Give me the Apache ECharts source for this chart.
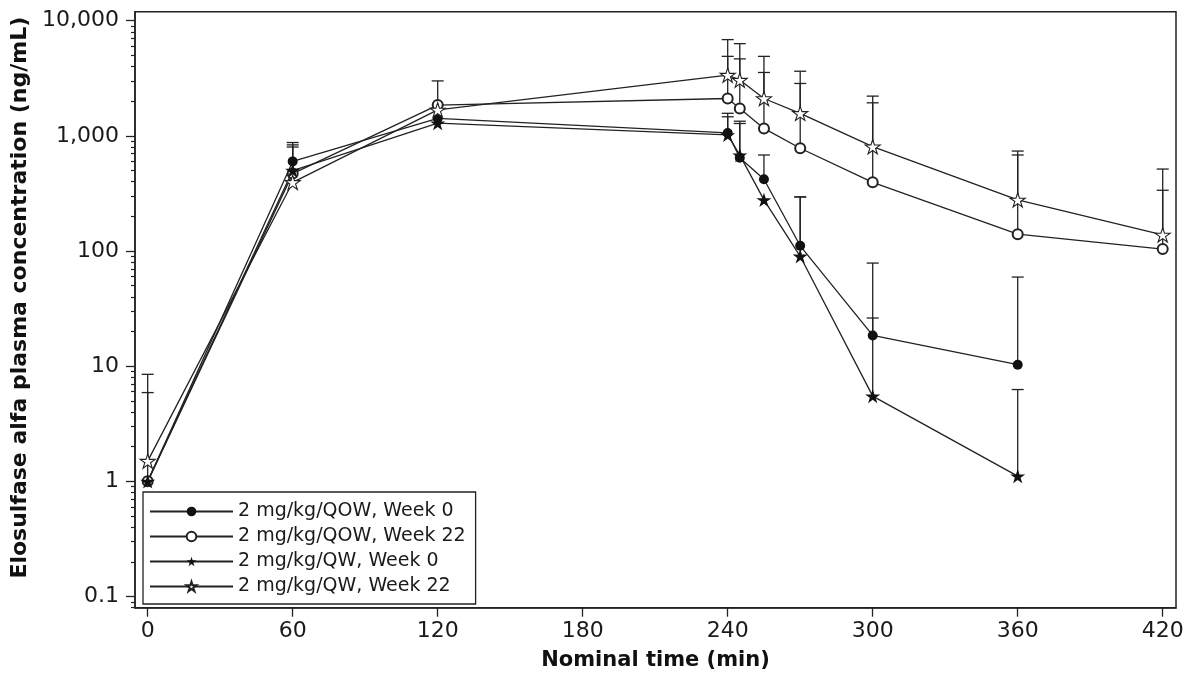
<!DOCTYPE html>
<html>
<head>
<meta charset="utf-8">
<script src="https://cdn.jsdelivr.net/npm/echarts@6/dist/echarts.min.js"></script>
<style>
html,body{margin:0;padding:0;background:#fff;}
#chart{width:1195px;height:684px;}
</style>
</head>
<body>
<div id="chart"></div>
<script>
// Nominal time (min)
const times = [0, 60, 120, 240, 245, 255, 270, 300, 360, 420];
// Mean concentrations (ng/mL)
const qowWk0  = [1.0, 600, 1420, 1060, 645, 420, 111, 18.5, 10.3, null];
const qowWk22 = [1.0, 470, 1850, 2110, 1730, 1160, 780, 395, 140, 104];
const qwWk0   = [1.0, 500, 1290, 1020, 680, 278, 90, 5.5, 1.11, null];
const qwWk22  = [1.5, 395, 1680, 3370, 3050, 2110, 1570, 805, 278, 138];
// Upper error bar ends (mean + SD)
const qowWk0Upper  = [5.9, 875, null, 1570, 1280, 682, 295, 78.6, 59.4, null];
const qowWk22Upper = [null, 835, 3000, 4900, 4660, 3550, 2850, 1936, 682, 337];
const qwWk0Upper   = [null, 800, null, 1465, 1340, null, 295, 26.2, 6.27, null];
const qwWk22Upper  = [8.5, null, null, 6850, 6320, 4900, 3640, 2213, 738, 515];
// Axis ticks
const xTicks = [0, 60, 120, 180, 240, 300, 360, 420];
const yTicks = [0.1, 1, 10, 100, 1000, 10000];
const seriesNames = ['2 mg/kg/QOW, Week 0', '2 mg/kg/QOW, Week 22', '2 mg/kg/QW, Week 0', '2 mg/kg/QW, Week 22'];

const lg = v => Math.log10(v);
const yMajor = yTicks.map(lg);
const yMinor = [];
[0.01, 0.1, 1, 10, 100, 1000].forEach(d => { for (let k = 2; k <= 9; k++) yMinor.push(lg(k * d)); });
const yMin = -1.097, yMax = 4.078;
const yMinorIn = yMinor.filter(v => v > yMin && v < yMax);

const STAR = 'path://M100,0 L122.45,69.1 L195.1,69.1 L136.3,111.8 L158.8,180.9 L100,138.2 L41.2,180.9 L63.7,111.8 L4.9,69.1 L77.55,69.1 Z';
const INK = '#222';
const FONT = 'DejaVu Sans';

function pts(vals) {
  const out = [];
  vals.forEach((v, i) => { if (v != null) out.push([times[i], lg(v)]); });
  return out;
}
function errs(vals, ups) {
  const out = [];
  vals.forEach((v, i) => { if (v != null && ups[i] != null) out.push([times[i], lg(v), lg(ups[i])]); });
  return out;
}
const errData = [].concat(
  errs(qowWk0, qowWk0Upper), errs(qowWk22, qowWk22Upper),
  errs(qwWk0, qwWk0Upper), errs(qwWk22, qwWk22Upper)
);

function fmtY(v) {
  const p = Math.round(v * 1000) / 1000;
  const val = Math.pow(10, p);
  if (val < 1) return String(Math.round(val * 10) / 10);
  return Math.round(val).toLocaleString('en-US');
}

const lineBase = {
  type: 'line', z: 3,
  lineStyle: { color: INK, width: 1.3 },
  emphasis: { disabled: true },
  animation: false
};

const chart = echarts.init(document.getElementById('chart'), null, { renderer: 'canvas' });
chart.setOption({
  backgroundColor: '#fff',
  animation: false,
  grid: { left: 135, right: 19, top: 11.7, bottom: 76.3, show: true, borderColor: INK, borderWidth: 1.5, backgroundColor: 'transparent' },
  legend: {
    data: seriesNames,
    orient: 'vertical', left: 143, top: 492,
    itemWidth: 83, itemHeight: 12, itemGap: 6,
    padding: [10, 10, 8, 6],
    borderColor: INK, borderWidth: 1.3,
    backgroundColor: '#fff',
    textStyle: { fontFamily: FONT, fontSize: 19, color: '#1a1a1a', lineHeight: 19 },
    selectedMode: false
  },
  xAxis: {
    type: 'value', min: -5.25, max: 425.5,
    name: 'Nominal time (min)', nameLocation: 'middle', nameGap: 42,
    nameTextStyle: { fontFamily: FONT, fontSize: 21, fontWeight: 'bold', color: '#111' },
    axisLine: { show: true, onZero: false, lineStyle: { color: INK, width: 1.5 } },
    axisTick: { show: true, length: 9, customValues: xTicks, lineStyle: { color: INK, width: 1.3 } },
    axisLabel: { customValues: xTicks, margin: 13, fontFamily: FONT, fontSize: 22, color: '#1a1a1a' },
    splitLine: { show: false }
  },
  yAxis: [{
    type: 'value', min: yMin, max: yMax,
    name: 'Elosulfase alfa plasma concentration (ng/mL)', nameLocation: 'middle', nameGap: 100,
    nameTextStyle: { fontFamily: FONT, fontSize: 22, fontWeight: 'bold', color: '#111', padding: [0, 0, 0, 24] },
    axisLine: { show: true, onZero: false, lineStyle: { color: INK, width: 1.5 } },
    axisTick: { show: true, length: 9, customValues: yMajor, lineStyle: { color: INK, width: 1.3 } },
    axisLabel: { customValues: yMajor, margin: 16, fontFamily: FONT, fontSize: 22, color: '#1a1a1a', formatter: fmtY },
    splitLine: { show: false }
  }, {
    type: 'value', min: yMin, max: yMax, position: 'left',
    axisLine: { show: false, onZero: false },
    axisTick: { show: true, length: 4, customValues: yMinorIn, lineStyle: { color: INK, width: 1.2 } },
    axisLabel: { show: false },
    splitLine: { show: false }
  }],
  series: [
    {
      type: 'custom', name: 'errorbars', z: 2, silent: true,
      data: errData,
      encode: { x: 0, y: [1, 2] },
      renderItem: function (params, api) {
        const x = api.value(0);
        const p0 = api.coord([x, api.value(1)]);
        const p1 = api.coord([x, api.value(2)]);
        const hw = 6;
        const st = { stroke: INK, lineWidth: 1.3 };
        return { type: 'group', children: [
          { type: 'line', shape: { x1: p0[0], y1: p0[1], x2: p1[0], y2: p1[1] }, style: st },
          { type: 'line', shape: { x1: p1[0] - hw, y1: p1[1], x2: p1[0] + hw, y2: p1[1] }, style: st }
        ] };
      }
    },
    Object.assign({}, lineBase, {
      name: seriesNames[0], data: pts(qowWk0),
      symbol: 'circle', symbolSize: 10,
      itemStyle: { color: '#111' }
    }),
    Object.assign({}, lineBase, {
      name: seriesNames[1], data: pts(qowWk22),
      symbol: 'emptyCircle', symbolSize: 10,
      itemStyle: { color: INK, borderWidth: 1.2 }
    }),
    Object.assign({}, lineBase, {
      name: seriesNames[2], data: pts(qwWk0),
      symbol: STAR, symbolKeepAspect: true, symbolSize: 15,
      itemStyle: { color: '#111' }
    }),
    Object.assign({}, lineBase, {
      name: seriesNames[3], data: pts(qwWk22),
      symbol: STAR, symbolKeepAspect: true, symbolSize: 15,
      itemStyle: { color: '#fff', borderColor: INK, borderWidth: 1.1 }
    })
  ]
});
</script>
</body>
</html>
